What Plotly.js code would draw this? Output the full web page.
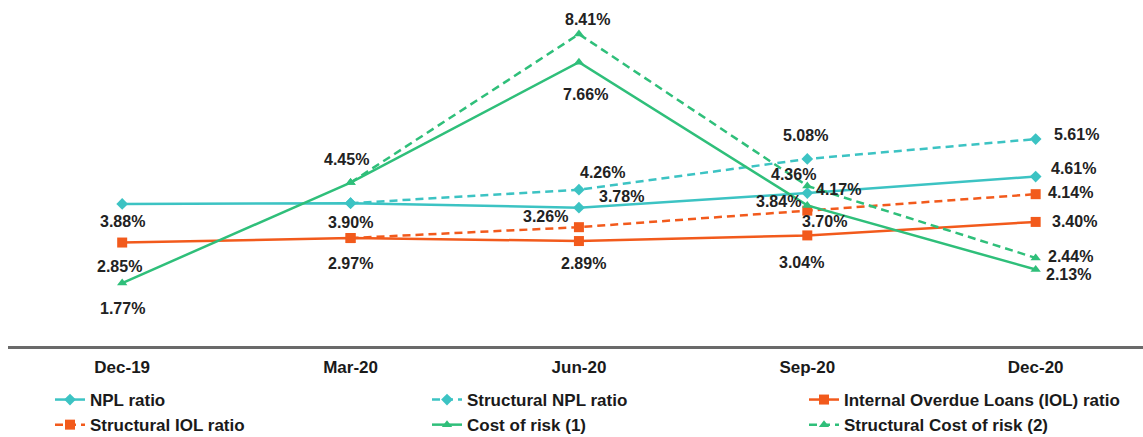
<!DOCTYPE html>
<html>
<head>
<meta charset="utf-8">
<script src="https://cdn.plot.ly/plotly-3.0.1.min.js"></script>
<style>html,body{margin:0;padding:0;background:#fff;}#chart{width:1143px;height:437px;}</style>
</head>
<body>
<div id="chart"></div>
<script>
// ---- data ----
const periods = ['Dec-19', 'Mar-20', 'Jun-20', 'Sep-20', 'Dec-20'];
const nplRatio = [3.88, 3.90, 3.78, 4.17, 4.61];
const structuralNplRatio = [null, 3.90, 4.26, 5.08, 5.61];
const iolRatio = [2.85, 2.97, 2.89, 3.04, 3.40];
const structuralIolRatio = [null, 2.97, 3.26, 3.70, 4.14];
const costOfRisk = [1.77, 4.45, 7.66, 3.84, 2.13];
const structuralCostOfRisk = [null, 4.45, 8.41, 4.36, 2.44];
const seriesNames = ['NPL ratio', 'Structural NPL ratio', 'Internal Overdue Loans (IOL) ratio',
  'Structural IOL ratio', 'Cost of risk (1)', 'Structural Cost of risk (2)'];

// ---- styles (label offsets in px: [xshift, yshift], null = no label) ----
const TEAL = '#3cc3c3', ORANGE = '#f25a1c', GREEN = '#2fbf7a';
const styles = [
  {color: TEAL, dash: 'solid', symbol: 'diamond', size: 9,
   labels: [[0, -18], [0, -19], [43, 11], [31, 4], [38, 8]]},
  {color: TEAL, dash: '8px,5px', symbol: 'diamond', size: 9,
   labels: [null, null, [24, 17], [-2, 23], [41, 5]]},
  {color: ORANGE, dash: 'solid', symbol: 'square', size: 10,
   labels: [[-3, -24], [0, -25], [5, -22], [-6, -27], [39, 0]]},
  {color: ORANGE, dash: '8px,5px', symbol: 'square', size: 10,
   labels: [null, null, [-33, 11], [17, -11], [35, 2]]},
  {color: GREEN, dash: 'solid', symbol: 'triangle-up', size: 9,
   labels: [[0, -25], [-4, 23], [7, -32], [-29, 4], [33, -5]]},
  {color: GREEN, dash: '8px,5px', symbol: 'triangle-up', size: 9,
   labels: [null, null, [9, 15], [-14, 11], [35, 1]]}
];
const seriesValues = [nplRatio, structuralNplRatio, iolRatio, structuralIolRatio, costOfRisk, structuralCostOfRisk];

const traces = seriesValues.map((vals, i) => ({
  type: 'scatter', mode: 'lines+markers', name: seriesNames[i],
  x: periods, y: vals,
  line: {color: styles[i].color, width: 2.5, dash: styles[i].dash},
  marker: {color: styles[i].color, symbol: styles[i].symbol, size: styles[i].size},
  connectgaps: false, hoverinfo: 'x+y+name'
}));

const annotations = [];
seriesValues.forEach((vals, i) => {
  vals.forEach((v, j) => {
    const off = styles[i].labels[j];
    if (v === null || !off) return;
    annotations.push({
      x: periods[j], y: v, xref: 'x', yref: 'y',
      text: v.toFixed(2) + '%', showarrow: false,
      xshift: off[0], yshift: off[1],
      font: {family: 'Liberation Sans, Arial, sans-serif', size: 16, color: '#222222', weight: 'bold'}
    });
  });
});

const layout = {
  width: 1143, height: 437,
  margin: {l: 8, r: 0, t: 0, b: 91, autoexpand: false},
  paper_bgcolor: '#ffffff', plot_bgcolor: '#ffffff',
  font: {family: 'Liberation Sans, Arial, sans-serif', color: '#1a1a1a'},
  xaxis: {
    type: 'category', range: [-0.5, 4.47],
    showgrid: false, zeroline: false,
    showline: true, linecolor: '#6a6a6a', linewidth: 3,
    ticks: '', ticklabelstandoff: 4,
    tickfont: {size: 17, color: '#1a1a1a', weight: 'bold'}
  },
  yaxis: {
    range: [0.09, 9.32], visible: false, showgrid: false, zeroline: false
  },
  showlegend: true,
  legend: {
    orientation: 'h', xref: 'container', yref: 'container',
    x: 50 / 1143, xanchor: 'left', y: 1 - 382 / 437, yanchor: 'top',
    entrywidth: 332, entrywidthmode: 'pixels',
    font: {size: 17, color: '#1a1a1a', weight: 'bold'},
    bgcolor: 'rgba(0,0,0,0)', traceorder: 'normal'
  },
  annotations: annotations
};

Plotly.newPlot('chart', traces, layout, {displayModeBar: false, staticPlot: true});
</script>
</body>
</html>
